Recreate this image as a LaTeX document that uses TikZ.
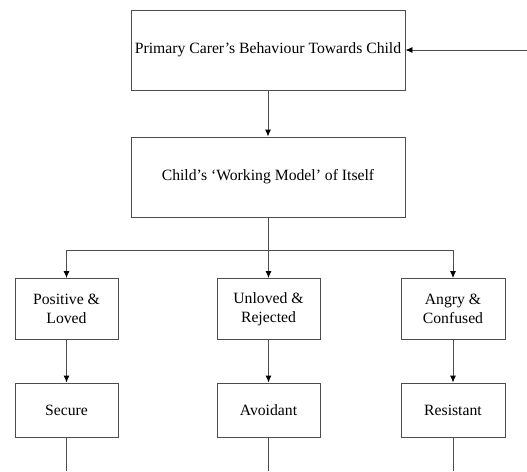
\documentclass[tikz,border=0pt]{standalone}
\usepackage{fontspec}
\setmainfont{Liberation Serif}
\usetikzlibrary{arrows.meta}
\tikzset{
    box/.style={draw=black!70, line width=0.9pt, align=center, inner sep=0pt,
        font=\fontsize{15.7}{19.5}\selectfont},
    link/.style={draw=black!70, line width=0.9pt},
    arr/.style={link, -{Latex[length=7pt,width=6pt,fill=black,color=black]}}
}
\begin{document}
\begin{tikzpicture}[x=1pt,y=-1pt]
    \useasboundingbox (0,0) rectangle (527,471);

    \node[box, minimum width=274, minimum height=80] (carer) at (268,50) {Primary Carer’s Behaviour Towards Child};
    \node[box, minimum width=274, minimum height=80] (model) at (268,177) {Child’s ‘Working Model’ of Itself};

    \node[box, minimum width=103, minimum height=61] (pos) at (66.5,309) {Positive \&\\Loved};
    \node[box, minimum width=103, minimum height=61] (unl) at (268.5,309) {Unloved \&\\Rejected};
    \node[box, minimum width=104, minimum height=61] (ang) at (453,309) {Angry \&\\Confused};

    \node[box, minimum width=103, minimum height=54] (sec) at (66.5,410) {Secure};
    \node[box, minimum width=103, minimum height=54] (avo) at (268.5,410) {Avoidant};
    \node[box, minimum width=104, minimum height=54] (res) at (453,410) {Resistant};

    \coordinate (in) at (527,50);
    \coordinate (split) at (268,250);
    \coordinate (s1) at (66.5,471);
    \coordinate (s2) at (268.5,471);
    \coordinate (s3) at (453,471);

    \draw[arr] (in) -- (carer);
    \draw[arr] (carer) -- (model);
    \draw[link] (model) -- (split);
    \draw[arr] (split) -| (pos); \draw[arr] (split) -| (unl); \draw[arr] (split) -| (ang);
    \draw[arr] (pos) -- (sec); \draw[arr] (unl) -- (avo); \draw[arr] (ang) -- (res);
    \draw[link] (sec) -- (s1); \draw[link] (avo) -- (s2); \draw[link] (res) -- (s3);
\end{tikzpicture}
\end{document}
